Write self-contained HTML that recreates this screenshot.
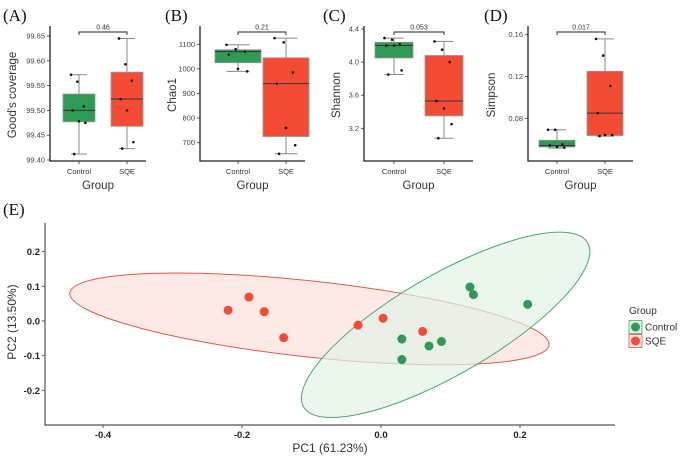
<!DOCTYPE html>
<html><head><meta charset="utf-8"><style>
html,body{margin:0;padding:0;background:#fff;width:689px;height:458px;overflow:hidden}
svg{display:block;font-family:"Liberation Sans",sans-serif}
</style></head><body>
<svg id="c" width="689" height="458" viewBox="0 0 689 458"></svg>
<script>
// ---- Box plot data ----
const panelLabels = ['(A)','(B)','(C)','(D)'];
const yTitles = ["Good's coverage",'Chao1','Shannon','Simpson'];
const pValues = ['0.46','0.21','0.053','0.017'];
const groups = ['Control','SQE'];
const ctrlStats = [[99.412,99.477,99.500,99.533,99.572],[990,1025,1070,1078,1098],[3.85,4.05,4.20,4.24,4.29],[0.0515,0.0525,0.054,0.059,0.069]];
const sqeStats = [[99.423,99.468,99.523,99.577,99.645],[655,725,940,1045,1125],[3.08,3.35,3.53,4.08,4.25],[0.063,0.0635,0.085,0.125,0.156]];
const ctrlPts = [[99.572,99.558,99.508,99.500,99.478,99.475,99.412],[1098,1080,1070,1058,1000,990],[4.29,4.27,4.22,4.20,4.20,3.90,3.85],[0.069,0.069,0.055,0.054,0.0525,0.052]];
const sqePts = [[99.645,99.593,99.560,99.523,99.500,99.436,99.423],[1125,1108,985,940,760,690,655],[4.25,4.15,4.00,3.53,3.44,3.25,3.08],[0.156,0.140,0.111,0.085,0.064,0.064,0.063]];
const yTicks = [[99.40,99.45,99.50,99.55,99.60,99.65],[700,800,900,1000,1100],[3.2,3.6,4.0,4.4],[0.08,0.12,0.16]];
const tickFmt = [v=>v.toFixed(2),v=>String(v),v=>v.toFixed(1),v=>v.toFixed(2)];
// ---- PCoA data ----
const sqeX = [-0.220,-0.190,-0.168,-0.140,-0.033,0.003,0.060];
const sqeY = [0.031,0.069,0.027,-0.048,-0.012,0.008,-0.030];
const ctrlX = [0.128,0.133,0.211,0.030,0.069,0.087,0.030];
const ctrlY = [0.098,0.076,0.048,-0.052,-0.072,-0.059,-0.111];
const xTicksE = [-0.4,-0.2,0.0,0.2];
const yTicksE = [-0.2,-0.1,0.0,0.1,0.2];

const NS='http://www.w3.org/2000/svg';
const svg=document.getElementById('c');
function el(tag,attrs,parent,text){const e=document.createElementNS(NS,tag);for(const k in attrs)e.setAttribute(k,attrs[k]);if(text!==undefined)e.textContent=text;(parent||svg).appendChild(e);return e;}
const GREEN='#2e9a55',RED='#f44b35';

// panel layout: axisX, axisRight, ctrlX, sqeX, boxW, y-range mapping (v1,p1,v2,p2), labelX, yTitleX
const layout=[
 {ax:50,ar:146,cx:79,sx:127,bw:32,v1:99.40,p1:160,v2:99.65,p2:36,lx:3,tx:16},
 {ax:200,ar:305,cx:238,sx:286,bw:46,v1:700,p1:142.7,v2:1100,p2:44.3,lx:165,tx:176},
 {ax:364,ar:473,cx:394,sx:444,bw:38,v1:3.2,p1:128.3,v2:4.4,p2:29,lx:323,tx:340},
 {ax:528,ar:633,cx:557,sx:605,bw:36,v1:0.08,p1:118.3,v2:0.16,p2:34.7,lx:484,tx:495}
];
layout.forEach((L,i)=>{
  const g=el('g',{},svg);
  
  
  const ys=v=>L.p1+(v-L.v1)*(L.p2-L.p1)/(L.v2-L.v1);
  const lab=el('text',{x:L.lx,y:21,'font-family':'Liberation Serif,serif','font-size':17,fill:'#111'},g,panelLabels[i]);
  
  const top=26;
  const axl=el('path',{d:`M${L.ax},${top}V161H${L.ar}`,stroke:'#222','stroke-width':1.3,fill:'none'},g);
  
  yTicks[i].forEach(t=>{const y=ys(t);
    el('line',{x1:L.ax-3,x2:L.ax,y1:y,y2:y,stroke:'#333','stroke-width':0.8},g);
    const tt=el('text',{x:L.ax-5,y:y+2.5,'text-anchor':'end','font-size':7.5,fill:'#444'},g,tickFmt[i](t));
    
  });
  [L.cx,L.sx].forEach((x,j)=>{
    el('line',{x1:x,x2:x,y1:161,y2:164,stroke:'#333','stroke-width':0.8},g);
    const t=el('text',{x:x,y:174,'text-anchor':'middle','font-size':7.5,fill:'#333'},g,groups[j]);
    
  });
  const xt=el('text',{x:(L.ax+L.ar)/2,y:189,'text-anchor':'middle','font-size':11.5,fill:'#333'},g,'Group');
  
  const yt=el('text',{x:0,y:0,transform:`translate(${L.tx},95) rotate(-90)`,'text-anchor':'middle','font-size':11.5,fill:'#333'},g,yTitles[i]);
  
  [[ctrlStats[i],ctrlPts[i],L.cx,GREEN,'control'],[sqeStats[i],sqePts[i],L.sx,RED,'sqe']].forEach(([s,pts,x,col,nm])=>{
    const w=L.bw;
    el('line',{x1:x,x2:x,y1:ys(s[0]),y2:ys(s[4]),stroke:'#888','stroke-width':1},g);
    el('line',{x1:x-w/4,x2:x+w/4,y1:ys(s[0]),y2:ys(s[0]),stroke:'#888','stroke-width':1},g);
    el('line',{x1:x-w/4,x2:x+w/4,y1:ys(s[4]),y2:ys(s[4]),stroke:'#888','stroke-width':1},g);
    const b=el('rect',{x:x-w/2,y:ys(s[3]),width:w,height:ys(s[1])-ys(s[3]),fill:col,stroke:'#999','stroke-width':0.8},g);
    
    el('line',{x1:x-w/2,x2:x+w/2,y1:ys(s[2]),y2:ys(s[2]),stroke:'#333','stroke-width':1},g);
    pts.forEach((v,k)=>{
      const p=el('circle',{cx:x+((k*37)%11-5)*w/20,cy:ys(v),r:1.3,fill:'#111'},g);
      
    });
  });
  const by=32;
  el('path',{d:`M${L.cx},${by+3}V${by}H${L.sx}V${by+3}`,stroke:'#222','stroke-width':0.9,fill:'none'},g);
  const pt=el('text',{x:(L.cx+L.sx)/2,y:by-2.5,'text-anchor':'middle','font-size':7,fill:'#333'},g,pValues[i]);
  
});

// ---- PCoA panel ----
const E=el('g',{},svg);


const xs=v=>381+v*695;
const yE=v=>321-v*347;
const el1=el('text',{x:3,y:215,'font-family':'Liberation Serif,serif','font-size':17,fill:'#111'},E,'(E)');

// ellipses (center data units, semi-axes px, angle deg)
const ellipseCenters=[[-0.103,0.006],[0.093,-0.011]];
const ellipseAxes=[[241,38,6.2],[164,50,-30]];
const ellCols=[['#fde5e2','#e8564e'],['#e3f2e6','#4aa874']];
ellipseCenters.forEach((c,k)=>{
  const e=el('ellipse',{cx:0,cy:0,rx:ellipseAxes[k][0],ry:ellipseAxes[k][1],fill:ellCols[k][0],'fill-opacity':k?0.7:0.85,stroke:ellCols[k][1],'stroke-width':1,transform:`translate(${xs(c[0])},${yE(c[1])}) rotate(${ellipseAxes[k][2]})`},E);
  
});
const axE=el('path',{d:'M45,223V425H615',stroke:'#555','stroke-width':1.2,fill:'none'},E);

xTicksE.forEach(t=>{const x=xs(t);
  el('line',{x1:x,x2:x,y1:425,y2:428,stroke:'#555'},E);
  const tt=el('text',{x:x,y:438,'text-anchor':'middle','font-size':9.5,'font-weight':'bold',fill:'#222'},E,t.toFixed(1));
  
});
yTicksE.forEach(t=>{const y=yE(t);
  el('line',{x1:42,x2:45,y1:y,y2:y,stroke:'#555'},E);
  const tt=el('text',{x:40,y:y+3.5,'text-anchor':'end','font-size':9.5,'font-weight':'bold',fill:'#222'},E,t.toFixed(1));
  
});
const xtE=el('text',{x:330,y:452,'text-anchor':'middle','font-size':12,fill:'#333'},E,'PC1 (61.23%)');

const ytE=el('text',{x:0,y:0,transform:'translate(16,322) rotate(-90)','text-anchor':'middle','font-size':12,fill:'#333'},E,'PC2 (13.50%)');

sqeX.forEach((x,k)=>{
  const c=el('circle',{cx:xs(x),cy:yE(sqeY[k]),r:4.5,fill:RED},E);
  
});
ctrlX.forEach((x,k)=>{
  const c=el('circle',{cx:xs(x),cy:yE(ctrlY[k]),r:4.5,fill:GREEN},E);
  
});
// legend
const Lg=el('g',{},svg);


el('text',{x:629,y:314,'font-size':10,fill:'#333'},Lg,'Group');
[['Control',GREEN,'#e3f2e6','#4aa874',327],['SQE',RED,'#fde5e2','#e8564e',341]].forEach(([n,c,f,s,y])=>{
  const en=el('g',{},Lg);
  
  
  el('rect',{x:629,y:y-6.5,width:13,height:13,fill:f,stroke:s,'stroke-width':0.8},en);
  el('circle',{cx:635.5,cy:y,r:4.5,fill:c},en);
  el('text',{x:645,y:y+3.5,'font-size':10,fill:'#333'},en,n);
});
</script>
</body></html>
